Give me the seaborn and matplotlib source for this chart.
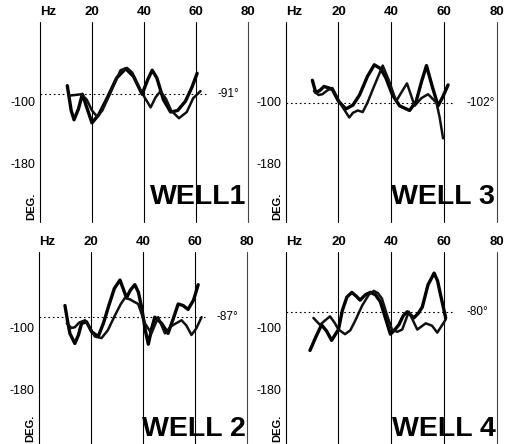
import matplotlib
matplotlib.use("Agg")
import numpy as np
import pandas as pd
import matplotlib.pyplot as plt
import seaborn as sns

# =====================
# DATA
# =====================
grid_hz = [0, 20, 40, 60, 80]
grid_labels = ["Hz", "20", "40", "60", "80"]
phase_ticks = [-100, -180]

well_names = ["WELL1", "WELL 3", "WELL 2", "WELL 4"]
mean_phase = [-91, -102, -87, -80]

# well 1
w1_a_hz = [10.5, 12.0, 13.1, 14.8, 16.3, 18.2, 20.0, 22.5, 26.0, 29.5, 33.0, 36.0, 39.3, 41.5, 43.2, 45.0, 47.5, 50.3, 53.0, 56.0, 58.5, 60.5]
w1_a_deg = [-80, -112, -124, -110, -91, -110, -128, -118, -95, -70, -58, -68, -91, -72, -60, -70, -98, -114, -112, -100, -82, -64]
w1_b_hz = [11.0, 13.5, 16.0, 18.0, 20.0, 22.0, 24.0, 27.0, 31.0, 33.5, 35.5, 39.0, 42.6, 44.5, 46.4, 48.5, 50.5, 53.5, 56.5, 59.0, 61.8]
w1_b_deg = [-93, -92, -91, -98, -112, -120, -112, -90, -60, -57, -63, -88, -108, -95, -87, -97, -112, -122, -114, -96, -87]

# well 3
w3_a_hz = [10.1, 11.4, 13.0, 14.5, 16.5, 17.7, 20.0, 22.8, 25.5, 28.0, 31.0, 33.6, 36.0, 38.0, 40.5, 43.2, 47.0, 49.5, 51.5, 53.4, 55.5, 57.8, 59.5, 61.6]
w3_a_deg = [-73, -89, -86, -81, -83, -85, -100, -110, -105, -92, -68, -53, -58, -70, -92, -106, -112, -100, -75, -54, -80, -106, -95, -79]
w3_b_hz = [10.7, 12.5, 13.9, 15.8, 17.7, 19.5, 20.9, 24.1, 25.5, 27.3, 29.2, 31.0, 33.0, 36.8, 39.0, 41.9, 44.0, 46.0, 48.9, 51.5, 54.0, 57.2, 58.4, 59.7]
w3_b_deg = [-87, -92, -91, -86, -83, -95, -104, -121, -115, -112, -114, -102, -85, -54, -72, -100, -88, -77, -106, -96, -91, -102, -121, -148]

# well 2
w2_a_hz = [10.0, 11.0, 11.9, 13.8, 15.2, 16.4, 18.3, 20.3, 22.8, 24.8, 26.7, 29.0, 31.2, 33.7, 35.2, 36.9, 38.3, 39.5, 41.0, 42.1, 43.5, 44.6, 47.2, 49.7, 51.8, 53.6, 55.5, 57.4, 59.5, 61.3]
w2_a_deg = [-72, -92, -108, -121, -110, -95, -93, -106, -112, -95, -74, -50, -39, -62, -52, -45, -55, -74, -105, -122, -100, -87, -95, -108, -88, -70, -72, -77, -65, -45]
w2_b_hz = [10.7, 12.5, 13.8, 15.5, 17.7, 19.5, 21.5, 24.1, 26.5, 29.2, 31.5, 33.1, 35.0, 38.2, 40.8, 43.3, 45.9, 48.5, 50.5, 51.7, 54.9, 56.8, 58.7, 60.5, 62.6]
w2_b_deg = [-95, -101, -100, -94, -91, -100, -112, -114, -104, -85, -70, -62, -64, -70, -95, -108, -87, -108, -100, -97, -91, -98, -110, -102, -87]

# well 4
w4_a_hz = [9.2, 11.5, 13.6, 15.5, 17.4, 20.0, 21.5, 23.2, 25.1, 26.8, 28.2, 30.2, 32.1, 34.0, 35.9, 38.0, 39.7, 41.2, 42.9, 44.6, 46.1, 48.6, 50.3, 51.8, 54.0, 56.3, 57.6, 58.8, 60.7]
w4_a_deg = [-130, -112, -97, -105, -117, -103, -78, -61, -55, -60, -65, -58, -55, -58, -67, -90, -109, -104, -97, -85, -80, -88, -82, -74, -45, -30, -40, -59, -88]
w4_b_hz = [10.5, 13.0, 15.0, 16.8, 18.5, 20.0, 22.5, 24.5, 26.3, 29.0, 31.5, 33.4, 35.0, 36.5, 38.5, 40.3, 42.3, 44.2, 46.7, 49.9, 53.1, 55.5, 57.5, 60.7]
w4_b_deg = [-88, -97, -91, -86, -94, -103, -109, -104, -92, -72, -58, -53, -56, -63, -85, -103, -106, -103, -80, -103, -95, -98, -107, -90]

curves = [
    (w1_a_hz, w1_a_deg, w1_b_hz, w1_b_deg),
    (w3_a_hz, w3_a_deg, w3_b_hz, w3_b_deg),
    (w2_a_hz, w2_a_deg, w2_b_hz, w2_b_deg),
    (w4_a_hz, w4_a_deg, w4_b_hz, w4_b_deg),
]

# =====================
# STYLE
# =====================
sns.set_style("white")
plt.rcParams["font.family"] = ["Liberation Sans", "DejaVu Sans"]
plt.rcParams["text.color"] = "black"
plt.rcParams["xtick.color"] = "black"
plt.rcParams["ytick.color"] = "black"

fig = plt.figure(figsize=(5.13, 4.44), dpi=100)
fig.patch.set_facecolor("white")

# panel positions (figure fraction): top-left, top-right, bottom-left, bottom-right
boxes = [
    [0.078, 0.500, 0.405, 0.450],
    [0.557, 0.500, 0.411, 0.450],
    [0.076, 0.000, 0.405, 0.432],
    [0.557, 0.000, 0.411, 0.432],
]
ylims = [(-256, 2), (-256, 2), (-251, -3), (-251, -3)]
label_lift = [15, 15, 2, 2]

for i, box in enumerate(boxes):
    ax = fig.add_axes(box)
    a_hz, a_deg, b_hz, b_deg = curves[i]
    df = pd.concat([
        pd.DataFrame({"hz": a_hz, "deg": a_deg, "curve": "a"}),
        pd.DataFrame({"hz": b_hz, "deg": b_deg, "curve": "b"}),
    ], ignore_index=True)

    sns.lineplot(data=df, x="hz", y="deg", hue="curve", size="curve",
                 sizes={"a": 2.4, "b": 1.8}, palette={"a": "black", "b": "#111111"},
                 estimator=None, sort=True, legend=False, ax=ax,
                 solid_joinstyle="round", solid_capstyle="round")

    for g in grid_hz:
        ax.axvline(g, color="#444444" if g == 80 else "black", lw=0.8, clip_on=False, zorder=0)

    m = mean_phase[i]
    ax.plot([0, 64], [m, m], ls=(0, (1.5, 2.5)), color="black", lw=0.8)
    ax.text(68.5, m, f"-{abs(m)}\u00b0", fontsize=8.5, va="center", ha="left")

    ax.set_xlim(0, 80)
    ax.set_ylim(*ylims[i])
    ax.xaxis.tick_top()
    ax.set_xticks(grid_hz)
    ax.set_xticklabels(grid_labels, fontsize=9.5, fontweight="bold")
    ax.get_xticklabels()[0].set_horizontalalignment("left")
    ax.set_yticks(phase_ticks)
    ax.set_yticklabels([str(t) for t in phase_ticks], fontsize=9)
    ax.tick_params(axis="both", length=0, pad=3)
    ax.set_xlabel("")
    ax.set_ylabel("")
    for s in ax.spines.values():
        s.set_visible(False)

    ax.text(-1.5, ylims[i][0] + 3, "DEG.", rotation=90, fontsize=8, fontweight="bold",
            ha="right", va="bottom")
    ax.text(79.5, ylims[i][0] + label_lift[i], well_names[i], fontsize=20.5, fontweight="bold",
            ha="right", va="bottom")

fig.savefig("out.png", dpi=100, facecolor="white")
